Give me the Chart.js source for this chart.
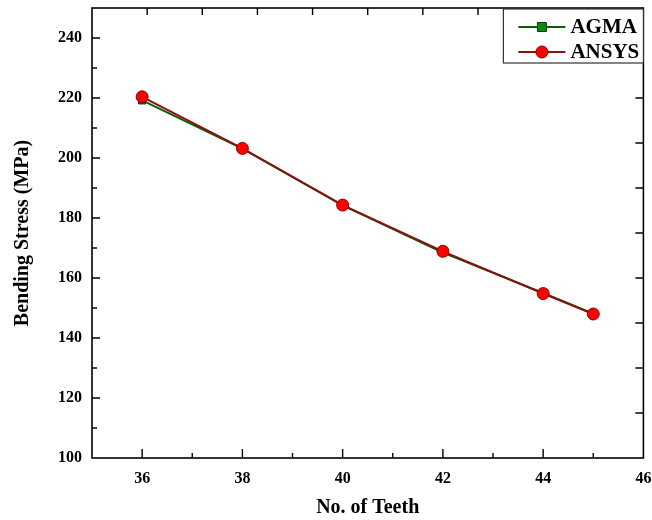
<!DOCTYPE html>
<html>
<head>
<meta charset="utf-8">
<script src="https://cdn.jsdelivr.net/npm/chart.js@4"></script>
<style>
  html, body { margin: 0; padding: 0; background: #fff; }
  #wrap { width: 652px; height: 520px; }
</style>
</head>
<body>
<div id="wrap"><canvas id="stressChart"></canvas></div>
<script>
// Bending stress vs. number of teeth (AGMA vs ANSYS)

const teeth = [36, 38, 40, 42, 44, 45];
const agma = [219.2, 203.1, 184.2, 168.5, 155.0, 148.1];
const ansys = [220.4, 203.2, 184.3, 168.9, 154.8, 148.0];

const xTicks = [36, 38, 40, 42, 44, 46];
const yTicks = [100, 120, 140, 160, 180, 200, 220, 240];

const serif = "'Liberation Serif', 'Times New Roman', serif";

// frame, inward tick marks and boxed legend drawn on top of the chart area
const framePlugin = {
    id: 'frame',
    afterDraw(chart) {
        const { ctx, chartArea: a, scales } = chart;
        const x = scales.x, y = scales.y;
        ctx.save();
        ctx.strokeStyle = '#000';
        ctx.lineWidth = 1.6;
        ctx.strokeRect(a.left, a.top, a.right - a.left, a.bottom - a.top);

        ctx.lineWidth = 1.4;
        ctx.beginPath();
        // bottom: major every 2, minor every 1
        for (let v = 36; v < 46; v++) {
            const px = x.getPixelForValue(v);
            const len = v % 2 === 0 ? 9 : 5;
            ctx.moveTo(px, a.bottom);
            ctx.lineTo(px, a.bottom - len);
        }
        // left: major every 20, minor every 10
        for (let v = 110; v < 250; v += 10) {
            const py = y.getPixelForValue(v);
            const len = v % 20 === 0 ? 8 : 5;
            ctx.moveTo(a.left, py);
            ctx.lineTo(a.left + len, py);
        }
        // top: ten divisions
        for (let k = 1; k < 10; k++) {
            const px = x.getPixelForValue(35 + 1.1 * k);
            ctx.moveTo(px, a.top);
            ctx.lineTo(px, a.top + 7);
        }
        // right: ten divisions
        for (let k = 1; k < 10; k++) {
            const py = y.getPixelForValue(100 + 15 * k);
            ctx.moveTo(a.right, py);
            ctx.lineTo(a.right - 8, py);
        }
        ctx.stroke();

        // legend box
        const bw = 140, bh = 54;
        const bx = a.right - bw, by = a.top + 1;
        ctx.fillStyle = '#fff';
        ctx.fillRect(bx, by, bw, bh);
        ctx.strokeStyle = '#333';
        ctx.lineWidth = 1.2;
        ctx.strokeRect(bx, by, bw, bh);

        ctx.font = 'bold 21px ' + serif;
        ctx.textBaseline = 'middle';
        chart.data.datasets.forEach((ds, i) => {
            const cy = by + 18 + i * 25;
            const lx0 = bx + 15, lx1 = bx + 62, mx = (lx0 + lx1) / 2;
            ctx.strokeStyle = ds.borderColor;
            ctx.lineWidth = 2;
            ctx.beginPath();
            ctx.moveTo(lx0, cy);
            ctx.lineTo(lx1, cy);
            ctx.stroke();
            ctx.fillStyle = ds.pointBackgroundColor;
            ctx.strokeStyle = ds.pointBorderColor;
            ctx.lineWidth = 1;
            ctx.beginPath();
            if (ds.pointStyle === 'rect') {
                ctx.rect(mx - 4.5, cy - 4.5, 9, 9);
            } else {
                ctx.arc(mx, cy, 6, 0, Math.PI * 2);
            }
            ctx.fill();
            ctx.stroke();
            ctx.fillStyle = '#000';
            ctx.fillText(ds.label, bx + 67, cy + 1);
        });
        ctx.restore();
    }
};

const ctx = document.getElementById('stressChart').getContext('2d');

new Chart(ctx, {
    type: 'line',
    data: {
        datasets: [{
            label: 'AGMA',
            data: teeth.map((t, i) => ({ x: t, y: agma[i] })),
            borderColor: '#0b5d0b',
            borderWidth: 2,
            pointStyle: 'rect',
            pointRadius: 5,
            pointBackgroundColor: '#0a8a0a',
            pointBorderColor: '#063806',
            pointBorderWidth: 1,
            order: 1
        }, {
            label: 'ANSYS',
            data: teeth.map((t, i) => ({ x: t, y: ansys[i] })),
            borderColor: '#8b1010',
            borderWidth: 2,
            pointStyle: 'circle',
            pointRadius: 6,
            pointBackgroundColor: '#ff0000',
            pointBorderColor: '#8b0000',
            pointBorderWidth: 1,
            order: 0
        }]
    },
    options: {
        responsive: true,
        maintainAspectRatio: false,
        animation: false,
        events: [],
        layout: { padding: { top: 8, right: 8.6, left: 0, bottom: 0 } },
        plugins: {
            legend: { display: false },
            tooltip: { enabled: false }
        },
        scales: {
            x: {
                type: 'linear',
                min: 35,
                max: 46,
                afterBuildTicks: (scale) => { scale.ticks = xTicks.map(v => ({ value: v })); },
                afterFit: (scale) => {
                    scale.height = 62;
                    scale.paddingLeft = 0;
                    scale.paddingRight = 0;
                },
                grid: { display: false, drawTicks: false },
                border: { display: false },
                ticks: {
                    color: '#000',
                    padding: 11,
                    maxRotation: 0,
                    font: { family: serif, size: 16, weight: 'bold' }
                },
                title: {
                    display: true,
                    text: 'No. of Teeth',
                    color: '#000',
                    padding: { top: 12, bottom: 0 },
                    font: { family: serif, size: 20, weight: 'bold' }
                }
            },
            y: {
                min: 100,
                max: 250,
                afterBuildTicks: (scale) => { scale.ticks = yTicks.map(v => ({ value: v })); },
                afterFit: (scale) => {
                    scale.width = 92;
                    scale.paddingTop = 0;
                    scale.paddingBottom = 0;
                },
                grid: { display: false, drawTicks: false },
                border: { display: false },
                ticks: {
                    color: '#000',
                    padding: 10,
                    font: { family: serif, size: 16, weight: 'bold' }
                },
                title: {
                    display: true,
                    text: 'Bending Stress (MPa)',
                    color: '#000',
                    padding: { top: 11, bottom: 0 },
                    font: { family: serif, size: 20, weight: 'bold' }
                }
            }
        }
    },
    plugins: [framePlugin]
});
</script>
</body>
</html>
